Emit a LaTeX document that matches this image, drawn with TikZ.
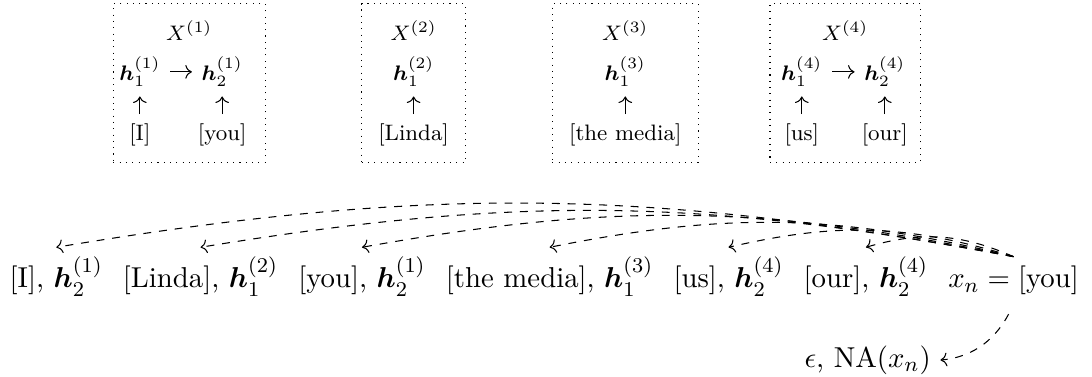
\documentclass[tikz,border=0pt]{standalone}
\usepackage{amsmath}
\usepackage{tikz}
\usetikzlibrary{positioning,arrows.meta}
\tikzset{
    clusterbox/.style={draw, dotted, minimum height=2.12cm},
    hid/.style={anchor=base, inner sep=3.5pt, font=\fontsize{8.5}{10}\selectfont},
    word/.style={anchor=base, inner sep=3.5pt, font=\fontsize{8.5}{10}\selectfont},
    entry/.style={inner sep=3.5pt, font=\fontsize{10.95}{13.6}\selectfont},
    feed/.style={draw, ->},
    ref/.style={draw, dashed, ->}
}

\begin{document}
\begin{tikzpicture}
    \useasboundingbox (0,0) rectangle (14.60,5.04);

    % Boxes
    \node[clusterbox, minimum width=2.03cm] (b1) at (2.53,3.93) {};
    \node[clusterbox, minimum width=1.39cm] (b2) at (5.53,3.93) {};
    \node[clusterbox, minimum width=1.95cm] (b3) at (8.36,3.93) {};
    \node[clusterbox, minimum width=2.01cm] (b4) at (11.30,3.93) {};

    % Nodes in the boxes
    \node[hid] (X1) at (2.53,4.50) {$X^{(1)}$};
    \node[hid] (h11) at (1.87,3.97) {$\boldsymbol{h}_1^{(1)}$};
    \node[hid] (h12) at (2.97,3.97) {$\boldsymbol{h}_2^{(1)}$};
    \node[word] (w11) at (1.87,3.16) {[I]};
    \node[word] (w12) at (2.97,3.16) {[you]};

    \node[hid] (X2) at (5.53,4.50) {$X^{(2)}$};
    \node[hid] (h21) at (5.53,3.97) {$\boldsymbol{h}_1^{(2)}$};
    \node[word] (w21) at (5.53,3.16) {[Linda]};

    \node[hid] (X3) at (8.36,4.50) {$X^{(3)}$};
    \node[hid] (h31) at (8.36,3.97) {$\boldsymbol{h}_1^{(3)}$};
    \node[word] (w31) at (8.36,3.16) {[the media]};

    \node[hid] (X4) at (11.30,4.50) {$X^{(4)}$};
    \node[hid] (h41) at (10.72,3.97) {$\boldsymbol{h}_1^{(4)}$};
    \node[hid] (h42) at (11.83,3.97) {$\boldsymbol{h}_2^{(4)}$};
    \node[word] (w41) at (10.72,3.16) {[us]};
    \node[word] (w42) at (11.83,3.16) {[our]};

    % edges in the boxes
    \draw[feed] (h11) -- (h12);
    \draw[feed] (h41) -- (h42);
    \draw[feed] (w11) -- (h11);
    \draw[feed] (w12) -- (h12);
    \draw[feed] (w21) -- (h21);
    \draw[feed] (w31) -- (h31);
    \draw[feed] (w41) -- (h41);
    \draw[feed] (w42) -- (h42);

    % Bottom row
    \node[entry, anchor=base west] (i1) at (0.0,1.19) {[I], $\boldsymbol{h}_2^{(1)}$};
    \node[entry, base right=0.01cm of i1] (i2) {[Linda], $\boldsymbol{h}_1^{(2)}$};
    \node[entry, base right=0.01cm of i2] (i3) {[you], $\boldsymbol{h}_2^{(1)}$};
    \node[entry, base right=0.01cm of i3] (i4) {[the media], $\boldsymbol{h}_1^{(3)}$};
    \node[entry, base right=0.01cm of i4] (i5) {[us], $\boldsymbol{h}_2^{(4)}$};
    \node[entry, base right=0.01cm of i5] (i6) {[our], $\boldsymbol{h}_2^{(4)}$};
    \node[entry, base right=0.01cm of i6] (i7) {$x_n = \text{[you]}$};
    \node[entry, anchor=base] (eps) at (11.60,0.13) {$\epsilon$, NA$(x_n)$};

    % edges
    \draw[ref] (i7.north) to[bend right=10] (i1.north);
    \draw[ref] (i7.north) to[bend right=10] (i2.north);
    \draw[ref] (i7.north) to[bend right=11] (i3.north);
    \draw[ref] (i7.north) to[bend right=12.5] (i4.north);
    \draw[ref] (i7.north) to[bend right=15] (i5.north);
    \draw[ref] (i7.north) to[bend right=20] (i6.north);
    \draw[ref, shorten <=4pt] (i7.south) to[out=-118, in=5] (eps.east);
\end{tikzpicture}
\end{document}
